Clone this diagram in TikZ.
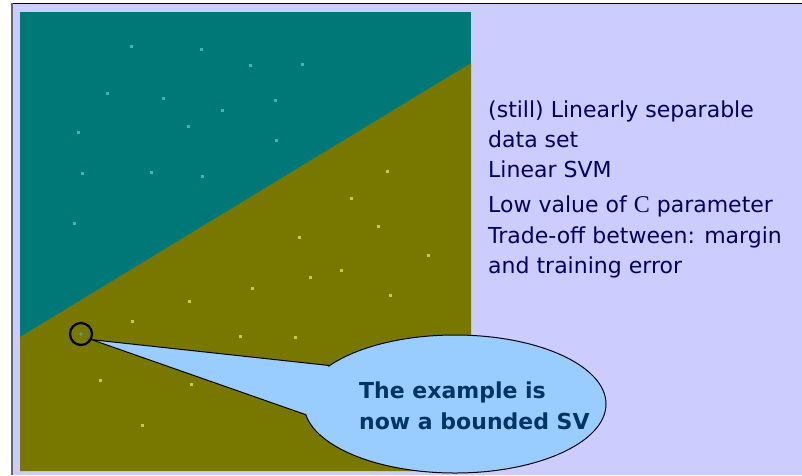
\documentclass[tikz,border=0pt]{standalone}
\usepackage{fontspec}
\setmainfont{DejaVu Sans}
\newfontfamily\serifC{Liberation Serif}
\usepackage{tikz}
\usetikzlibrary{shapes.geometric}
\definecolor{slide}{HTML}{CCCCFF}
\definecolor{posreg}{HTML}{007878}
\definecolor{negreg}{HTML}{787800}
\definecolor{posdot}{HTML}{33BBBB}
\definecolor{negdot}{HTML}{CCCC33}
\definecolor{bubblefill}{HTML}{99CCFF}
\definecolor{navytext}{HTML}{000066}
\definecolor{bubbletext}{HTML}{003366}

\begin{document}
\begin{tikzpicture}[x=1pt,y=-1pt,
		line/.style={anchor=base west,inner sep=0pt,text=navytext,font=\fontsize{22}{30}\selectfont},
		callout/.style={anchor=base west,inner sep=0pt,text=bubbletext,font=\bfseries\fontsize{22}{31}\selectfont}]
		\useasboundingbox (0,0) rectangle (802,475);
		%slide
		\fill[white] (0,0) rectangle (802,475);
		\fill[slide] (12,3) rectangle (802,475);
		\draw[black] (12,3.5) -- (802,3.5);
		\draw[gray!80!black,line width=2pt] (12,3) -- (12,475);
		%regions
		\fill[posreg] (20,12) rectangle (471,471);
		\fill[negreg] (20,337) -- (471,63) -- (471,471) -- (20,471) -- cycle;
		\foreach \x/\y in {131/46,201/49,250/65,302/64,107/93,163/98,275/100,222/110,188/126,78/132,276/140,82/173,151/172,202/176,74/223}{
		\fill[posdot] (\x-1.5,\y-1.5) rectangle +(3,3);}
		\foreach \x/\y in {387/171,351/198,378/226,299/237,428/255,341/270,310/277,252/288,189/301,390/295,132/321,240/336,295/337,100/380,191/384,277/388,142/425}{
		\fill[negdot] (\x-1.5,\y-1.5) rectangle +(3,3);}
		%bounded SV
		\fill[posdot!70!negreg] (81,334) circle (1.8);
		\node[draw,circle,line width=2.2pt,minimum size=22pt,inner sep=0pt] (hit) at (81,334) {};
		\node[ellipse,draw,line width=1pt,fill=bubblefill,minimum width=302,minimum height=138,inner sep=0pt] (bubble) at (455,404) {};
		\fill[bubblefill] (hit.-28) -- (bubble.163.8) -- (bubble.184.2) -- cycle;
		\draw[line width=1pt] (bubble.163.8) -- (hit.-28) -- (bubble.184.2);
		\node[callout] (b1) at (359,398) {The example is};
		\node[callout] (b2) at (359,429) {now a bounded SV};
		%text
		\node[line] (l1) at (488,117) {(still) Linearly separable};
		\node[line] (l2) at (488,147) {data set};
		\node[line] (l3) at (488,177) {Linear SVM};
		\node[line] (l4) at (488,212) {Low value of {\serifC\fontsize{24}{30}\selectfont C} parameter};
		\node[line] (l5) at (488,243) {Trade-off between: margin};
		\node[line] (l6) at (488,273) {and training error};
\end{tikzpicture}
\end{document}
